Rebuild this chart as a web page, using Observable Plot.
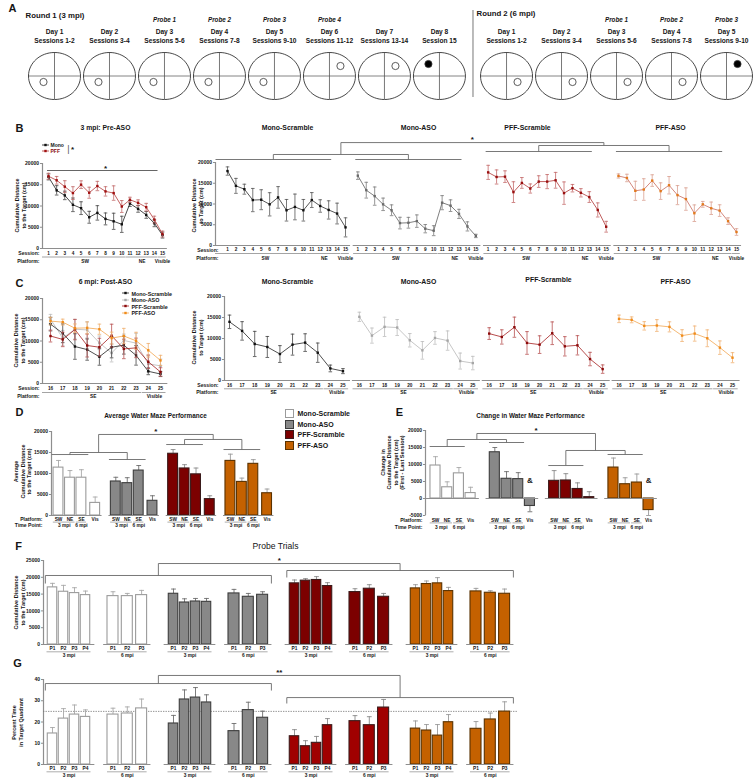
<!DOCTYPE html>
<html><head><meta charset="utf-8">
<script src="https://cdn.jsdelivr.net/npm/d3@7"></script>
<script src="https://cdn.jsdelivr.net/npm/@observablehq/plot@0.6"></script>
<style>
html,body{margin:0;padding:0;background:#fff;}
#fig{position:relative;width:753px;height:781px;overflow:hidden;background:#fff;font-family:'Liberation Sans',Arial,Helvetica,sans-serif;color:#151515;}
.t{position:absolute;white-space:nowrap;line-height:1;}
</style></head><body><div id="fig"></div><script>
// ================= DATA =================
// Panel A
const round1Days = ["Day 1","Day 2","Day 3","Day 4","Day 5","Day 6","Day 7","Day 8"];
const round1Sessions = ["Sessions 1-2","Sessions 3-4","Sessions 5-6","Sessions 7-8","Sessions 9-10","Sessions 11-12","Sessions 13-14","Session 15"];
const round1Probes = ["","","Probe 1","Probe 2","Probe 3","Probe 4","",""];
const round1Platform = ["SW","SW","SW","SW","SW","NE","NE","NW"];
const round1Visible = [false,false,false,false,false,false,false,true];
const round2Days = ["Day 1","Day 2","Day 3","Day 4","Day 5"];
const round2Sessions = ["Sessions 1-2","Sessions 3-4","Sessions 5-6","Sessions 7-8","Sessions 9-10"];
const round2Probes = ["","","Probe 1","Probe 2","Probe 3"];
const round2Platform = ["SE","SE","SE","SE","NE"];
const round2Visible = [false,false,false,false,true];

const groupNames = ["Mono-Scramble","Mono-ASO","PFF-Scramble","PFF-ASO"];
const distTicks = [0,5000,10000,15000,20000];

// Panel B (3 mpi, pre-ASO)
const bSessions = [1,2,3,4,5,6,7,8,9,10,11,12,13,14,15];
const bPlatformNames = ["SW","NE","Visible"];
const bPlatformFrom = [1,11,15];
const bPlatformTo = [10,14,15];
const bMonoMean = [16840,13680,12490,10280,9490,7350,8380,6960,6400,5690,10590,9330,7900,5930,3160];
const bMonoSem  = [700,1100,1000,1600,1500,1400,1700,1400,1900,1900,700,800,800,800,700];
const bPffMean  = [17000,16050,14550,13040,15020,13120,14700,13440,13040,9880,11460,10750,9720,6800,3400];
const bPffSem   = [700,900,1400,1500,900,1300,1100,1100,1700,1400,600,700,900,800,700];
const bMonoScrMean = [17940,14370,13570,10950,11030,9920,11590,8490,9290,8490,10950,9520,8570,7700,4370];
const bMonoScrSem  = [1000,1800,1200,2800,2400,2800,2600,2600,3100,2600,1800,1500,2200,2500,2300];
const bMonoAsoMean = [16830,13330,11900,9920,8490,5400,5480,5870,4050,3570,10320,9600,7620,4600,2300];
const bMonoAsoSem  = [900,1900,2200,1500,1300,1400,1300,1500,1000,1200,1700,1400,1100,1100,400];
const bPffScrMean  = [17620,16510,16590,12860,15080,13730,15400,15400,15710,12620,13810,12700,11670,8570,4520];
const bPffScrSem   = [1700,1700,1400,2500,1300,1100,1400,1700,1900,2700,900,1000,1300,1700,1300];
const bPffAsoMean  = [16750,16270,13180,13490,15640,13100,14520,12140,11190,7780,9920,8970,8410,5870,3250];
const bPffAsoSem   = [500,900,2300,2600,1400,2000,2100,2300,2700,2000,700,1500,1400,800,800];

// Panel C (6 mpi, post-ASO)
const cSessions = [16,17,18,19,20,21,22,23,24,25];
const cPlatformNames = ["SE","Visible"];
const cPlatformFrom = [16,24];
const cPlatformTo = [23,25];
const cMonoScrMean = [13970,11810,8700,7980,6300,8540,9020,6620,2870,2230];
const cMonoScrSem  = [1600,2200,3000,2500,2000,2500,2100,2300,800,600];
const cMonoAsoMean = [15160,10690,12770,12610,9580,7180,10130,9500,4630,4150];
const cMonoAsoSem  = [1100,1800,2300,1900,1600,2100,1500,2300,1900,1600];
const cPffScrMean  = [11170,10370,12690,8940,8540,11250,8140,8380,5110,2710];
const cPffScrSem   = [1400,1700,2400,2700,2100,2700,2300,2300,1600,1000];
const cPffAsoMean  = [14680,14440,13010,13090,12770,10690,11170,10050,7820,5430];
const cPffAsoSem   = [900,700,1000,1400,1200,1400,1800,2000,1600,1200];

// Panel D (average performance) : SW, NE, SE, Vis
const dPlatforms = ["SW","NE","SE","Vis"];
const dTimePoints = ["3 mpi","6 mpi"];
const dMonoScrMean = [11400,9000,9000,3000];   const dMonoScrSem = [1700,1700,1900,1400];
const dMonoAsoMean = [8100,7700,10700,3500];   const dMonoAsoSem = [1000,1300,1200,1200];
const dPffScrMean  = [14700,11200,9800,3900];  const dPffScrSem  = [1000,900,1500,800];
const dPffAsoMean  = [13000,8000,12300,5300];  const dPffAsoSem  = [1600,900,1000,1000];
const dTicks = [0,5000,10000,15000,20000];

// Panel E (change first - last session)
const eMonoScrMean = [9700,3300,7400,1600];    const eMonoScrSem = [2600,1600,1700,1700];
const eMonoAsoMean = [13600,5800,5700,-2200];  const eMonoAsoSem = [1400,2100,1900,1700];
const ePffScrMean  = [5200,5300,2800,400];     const ePffScrSem  = [3000,2000,1800,1600];
const ePffAsoMean  = [9100,4200,4700,-3400];   const ePffAsoSem  = [2800,1900,2500,1600];
const eMarks = ["","&","","&"];
const eTicks = [-5000,0,5000,10000,15000,20000];

// Panel F (probe trials, cumulative distance)
const probes3 = ["P1","P2","P3","P4"];
const probes6 = ["P1","P2","P3"];
const fMonoScr3 = [17000,15700,15300,14700]; const fMonoScr3Sem = [1200,1900,1600,1200];
const fMonoScr6 = [14400,14400,14700];       const fMonoScr6Sem = [1300,800,1400];
const fMonoAso3 = [15100,12500,12800,12700]; const fMonoAso3Sem = [1400,1100,900,1000];
const fMonoAso6 = [15200,14200,14800];       const fMonoAso6Sem = [1200,1000,900];
const fPffScr3  = [18200,19000,19200,17400]; const fPffScr3Sem  = [1000,600,1000,1000];
const fPffScr6  = [15600,16600,14200];       const fPffScr6Sem  = [1000,1200,1000];
const fPffAso3  = [16700,18000,18200,15900]; const fPffAso3Sem  = [1100,900,1700,1100];
const fPffAso6  = [15800,15400,15100];       const fPffAso6Sem  = [900,600,1400];
const fTicks = [0,5000,10000,15000,20000,25000];

// Panel G (probe trials, % time in target quadrant)
const gMonoScr3 = [14.6,21.6,23.5,22.4]; const gMonoScr3Sem = [2.8,4.7,4.5,3.3];
const gMonoScr6 = [23.5,24.0,26.4];      const gMonoScr6Sem = [3.0,3.1,4.4];
const gMonoAso3 = [19.3,30.6,31.5,29.2]; const gMonoAso3Sem = [3.8,4.5,4.7,3.6];
const gMonoAso6 = [15.7,25.6,22.0];      const gMonoAso6Sem = [3.6,3.7,3.1];
const gPffScr3  = [13.3,8.6,10.2,18.5];  const gPffScr3Sem  = [3.1,2.6,3.0,3.1];
const gPffScr6  = [20.4,18.5,26.8];      const gPffScr6Sem  = [2.6,4.0,3.8];
const gPffAso3  = [16.9,16.0,13.6,19.9]; const gPffAso3Sem  = [3.6,2.8,5.2,3.6];
const gPffAso6  = [16.8,21.2,24.9];      const gPffAso6Sem  = [3.4,3.0,4.6];
const gTicks = [0,10,20,30,40];
const gChance = 25;

// ================= STYLE =================
const FONT = "'Liberation Sans', Arial, Helvetica, sans-serif";
const AX = "#8e8e8e";
const BR = "#6a6a6a";
const barFill   = ["#ffffff","#888888","#7c0000","#c46100"];
const barStroke = ["#9b9b9b","#3d3d3d","#3a1a1a","#5a3200"];
const barErr    = ["#a8a8a8","#6e6e6e","#8a8a8a","#9a9a9a"];
const bColors = [
  {line:"#2a2a2a", marker:"#111111", err:"#555555"},
  {line:"#5e5e5e", marker:"#6a6a6a", err:"#7a7a7a"},
  {line:"#b03535", marker:"#990f0f", err:"#c46a6a"},
  {line:"#c86a5c", marker:"#e27a1e", err:"#d9a090"}];
const cColors = [
  {line:"#222222", marker:"#111111", err:"#444444"},
  {line:"#b8b8b8", marker:"#a6a6a6", err:"#bdbdbd"},
  {line:"#a52020", marker:"#8b0a0a", err:"#b85050"},
  {line:"#f2a651", marker:"#f08c1a", err:"#f0b070"}];
const monoCol = {line:"#1a1a1a", marker:"#111111", err:"#444444"};
const pffCol  = {line:"#b33a3a", marker:"#a01010", err:"#c26a6a"};

// ================= HELPERS =================
const fig = document.getElementById("fig");
const C = v => () => v;
const inv = (S, px) => S[0][0] + (px - S[1][0]) * (S[0][1] - S[0][0]) / (S[1][1] - S[1][0]);
const tickSym = {draw(c){ c.moveTo(-2.5,0); c.lineTo(0,0); }};
const capSym  = {draw(c){ c.moveTo(-1.8,0); c.lineTo(1.8,0); }};
const capWide = {draw(c){ c.moveTo(-2.4,0); c.lineTo(2.4,0); }};
function ellipseSym(rx, ry){ const k=0.5523; return {draw(c){
  c.moveTo(rx,0); c.bezierCurveTo(rx,k*ry,k*rx,ry,0,ry); c.bezierCurveTo(-k*rx,ry,-rx,k*ry,-rx,0);
  c.bezierCurveTo(-rx,-k*ry,-k*rx,-ry,0,-ry); c.bezierCurveTo(k*rx,-ry,rx,-k*ry,rx,0); c.closePath(); }}; }
const T = (data, o) => Plot.text(data, Object.assign({fontFamily: FONT, fontSize: 5, fontWeight: "bold", fill: "#151515"}, o));

function draw(X, Y, marks){
  const svg = Plot.plot({width:753, height:781, marginTop:0, marginRight:0, marginBottom:0, marginLeft:0,
    x:{type:"linear", domain:X[0], range:X[1], axis:null},
    y:{type:"linear", domain:Y[0], range:Y[1], axis:null},
    color:{type:"identity"},
    style:"position:absolute;left:0;top:0;background:transparent;overflow:visible;max-width:none;",
    marks});
  fig.appendChild(svg);
}
// free-standing labels (titles, letters, axis titles) drawn as SVG text in one layer
const labels = [];
function txt(s, x, y, o={}){ labels.push({s, x, y, size:o.size||7, weight:o.weight||"bold", anchor:o.anchor||"middle", italic:!!o.italic, color:o.color||"#151515", rotate:0}); }
function rotTxt(lines, x, y, size=5.5){ labels.push({s:lines.join("\n"), x, y, size, weight:"bold", anchor:"middle", italic:false, color:"#151515", rotate:-90}); }
function lineSwatch(x, y, c){
  const d=document.createElement("div"); d.className="t";
  Object.assign(d.style,{left:x+"px",top:(y-3)+"px"});
  d.innerHTML=`<svg width="7" height="6" style="display:block"><line x1="0" y1="3" x2="7" y2="3" stroke="${c.line}" stroke-width="0.8"/><rect x="2.3" y="1.8" width="2.4" height="2.4" fill="${c.marker}"/></svg>`;
  fig.appendChild(d);
}
function yAxis(ax, ticks, lo, hi, fs=5){
  return [
    Plot.ruleX([ax], {x:d=>d, y1:C(lo), y2:C(hi), stroke:AX, strokeWidth:1.2}),
    Plot.dot(ticks, {x:C(ax), y:d=>d, symbol:tickSym, fill:"none", stroke:AX, strokeWidth:1}),
    T(ticks, {x:C(ax), y:d=>d, text:d=>String(d), textAnchor:"end", dx:-3.5, fontSize:fs})
  ];
}
function series(rows, xk, mk, ek, c){
  return [
    Plot.ruleX(rows, {x:xk, y1:d=>d[mk]-d[ek], y2:d=>d[mk]+d[ek], stroke:c.err, strokeWidth:0.8}),
    Plot.dot(rows, {x:xk, y:d=>d[mk]-d[ek], symbol:capSym, fill:"none", stroke:c.err, strokeWidth:0.8}),
    Plot.dot(rows, {x:xk, y:d=>d[mk]+d[ek], symbol:capSym, fill:"none", stroke:c.err, strokeWidth:0.8}),
    Plot.line(rows, {x:xk, y:mk, stroke:c.line, strokeWidth:0.8}),
    Plot.dot(rows, {x:xk, y:mk, symbol:"square", r:1.35, fill:c.marker})
  ];
}
function sessionFrame({sessions, xf, ax, names, from, to, dys, fromAxis}){
  const P = names.map((n,i)=>({n, a:(i===0 && fromAxis) ? ax : xf(from[i])-0.5, b:xf(to[i])+0.45, m:(xf(from[i])+xf(to[i]))/2}));
  return [
    Plot.ruleY([0], {y:d=>d, x1:C(fromAxis?ax:xf(sessions[0])-0.55), x2:C(xf(sessions[sessions.length-1])+0.6), stroke:AX, strokeWidth:1}),
    T(sessions, {x:d=>xf(d), y:C(0), dy:dys[0], text:d=>String(d), fontSize:4.7}),
    Plot.ruleY(P, {y:C(0), dy:dys[1], x1:"a", x2:"b", stroke:"#9a9a9a", strokeWidth:0.9}),
    T(P, {x:"m", y:C(0), dy:dys[2], text:"n", fontSize:4.8})
  ];
}
function rowLabels(x, yv, dys, dx, names){
  return names.map((n,i)=>T([n], {x:C(x), y:C(yv), dy:dys[i], dx, textAnchor:"end", text:d=>d, fontSize:5.1}));
}
function bracket(xa, xb, y, ya, yb){
  return [{x1:xa,y1:y,x2:xb,y2:y},{x1:xa,y1:y,x2:xa,y2:ya},{x1:xb,y1:y,x2:xb,y2:yb}];
}
const links = (segs, stroke=BR) => Plot.link(segs, {x1:"x1", y1:"y1", x2:"x2", y2:"y2", stroke, strokeWidth:0.9});

// ================= PANEL A =================
txt("A", 12, 7, {size:11});
txt("Round 1 (3 mpi)", 25, 15, {size:7.8, anchor:"start"});
txt("Round 2 (6 mpi)", 476, 13, {size:7.8, anchor:"start"});
{
  const slots = [];
  round1Days.forEach((d,i)=>slots.push({slot:i, day:d, sess:round1Sessions[i], probe:round1Probes[i], plat:round1Platform[i], vis:round1Visible[i]}));
  round2Days.forEach((d,j)=>slots.push({slot:8.22+j, day:d, sess:round2Sessions[j], probe:round2Probes[j], plat:round2Platform[j], vis:round2Visible[j]}));
  const X=[[0,12.22],[54,726]], Y=[[0,100],[0,100]];
  const ux = 12.22/672;
  const cy=75.5, rx=26, ry=23.5;
  const plats = slots.map(s=>{
    const qx = s.plat.includes("E") ? 1 : -1, qy = s.plat.startsWith("N") ? -1 : 1;
    return {...s, px: s.slot + qx*11*ux, py: cy + qy*(s.vis ? 12 : (qy<0 ? 10 : 6))};
  });
  draw(X, Y, [
    Plot.ruleY(slots, {y:C(cy), x1:d=>d.slot-rx*ux, x2:d=>d.slot+rx*ux, stroke:"#666", strokeWidth:0.8}),
    Plot.ruleX(slots, {x:"slot", y1:C(cy-ry), y2:C(cy+ry), stroke:"#555", strokeWidth:0.8}),
    Plot.dot(slots, {x:"slot", y:C(cy), symbol:ellipseSym(rx,ry), fill:"none", stroke:"#333", strokeWidth:0.9}),
    Plot.dot(plats, {x:"px", y:"py", r:3.6, fill:d=>d.vis?"#000000":"#ffffff", stroke:"#333", strokeWidth:0.8}),
    T(slots, {x:"slot", y:C(19), text:"probe", fontStyle:"italic", fontSize:6.3}),
    T(slots, {x:"slot", y:C(31), text:"day", fontSize:6.6}),
    T(slots, {x:"slot", y:C(40), text:"sess", fontSize:6.6}),
    Plot.ruleX([(7+8.22)/2], {x:d=>d, y1:C(10), y2:C(97), stroke:"#777", strokeWidth:1})
  ]);
}

// ================= PANEL B =================
txt("B", 19, 127, {size:11});
txt("3 mpi: Pre-ASO", 105, 127, {size:6.8});
lineSwatch(42, 145, monoCol); txt("Mono", 50, 145, {size:5, anchor:"start"});
lineSwatch(42, 151, pffCol);  txt("PFF", 50, 151, {size:5, anchor:"start", color:"#8a1010"});
txt("|", 68, 148, {size:9, weight:"normal", color:"#555"});
txt("*", 72, 149, {size:8});
rotTxt(["Cumulative Distance","to the Target (cm)"], 20, 205);
{
  const X=[[1,15],[48,162]], Y=[[0,20000],[248,163]];
  const xf = s=>s, ax = inv(X, 42);
  const rows = bSessions.map((s,i)=>({x:s, mono:bMonoMean[i], monoE:bMonoSem[i], pff:bPffMean[i], pffE:bPffSem[i]}));
  draw(X, Y, [
    ...yAxis(ax, distTicks, 0, 20000),
    ...sessionFrame({sessions:bSessions, xf, ax, names:bPlatformNames, from:bPlatformFrom, to:bPlatformTo, dys:[5,8.5,12.5], fromAxis:true}),
    ...rowLabels(1, 0, [5.2,12.5], -9, ["Session:","Platform:"]),
    Plot.ruleY([18350], {y:d=>d, x1:C(0.88), x2:C(14.45), stroke:"#555", strokeWidth:0.9}),
    T(["*"], {x:C(8), y:C(18350), dy:-2, text:d=>d, fontSize:8}),
    ...series(rows, "x", "mono", "monoE", monoCol),
    ...series(rows, "x", "pff", "pffE", pffCol)
  ]);
}
[287,418,527,670].forEach((x,g)=>txt(groupNames[g], x, 127, {size:6.9}));
rotTxt(["Cumulative Distance","to Target (cm)"], 197, 205);
{
  const stride=15.46, X=[[0,3*stride+14],[227,736]], Y=[[0,20000],[245,162]];
  const ax = inv(X, 215);
  const data = [[bMonoScrMean,bMonoScrSem],[bMonoAsoMean,bMonoAsoSem],[bPffScrMean,bPffScrSem],[bPffAsoMean,bPffAsoSem]];
  const marks = [...yAxis(ax, distTicks, 0, 20000)];
  groupNames.forEach((n,g)=>{
    const xf = s=>g*stride+(s-1);
    const rows = bSessions.map((s,i)=>({x:xf(s), m:data[g][0][i], e:data[g][1][i]}));
    marks.push(...sessionFrame({sessions:bSessions, xf, ax, names:bPlatformNames, from:bPlatformFrom, to:bPlatformTo, dys:[4.4,8,12.5], fromAxis:g===0}));
    marks.push(...series(rows, "x", "m", "e", bColors[g]));
  });
  marks.push(...rowLabels(0, 0, [5,12.5], -9, ["Session:","Platform:"]));
  const lineLevel=[20720,20720,22650,22650];
  const gl = groupNames.map((n,g)=>{ const a = g===0 ? ax : g*stride-0.3, b = g*stride+12.3; return {a, b, m:(a+b)/2, y:lineLevel[g]}; });
  const pairLevel=[21930,24100], topLevel=24800;
  const pm = [(gl[0].m+gl[1].m)/2, (gl[2].m+gl[3].m)/2];
  const segs = [
    ...gl.map(l=>({x1:l.a,y1:l.y,x2:l.b,y2:l.y})),
    ...bracket(gl[0].m, gl[1].m, pairLevel[0], gl[0].y, gl[1].y),
    ...bracket(gl[2].m, gl[3].m, pairLevel[1], gl[2].y, gl[3].y),
    ...bracket(pm[0], pm[1], topLevel, pairLevel[0], pairLevel[1])
  ];
  marks.push(links(segs), T(["*"], {x:C((pm[0]+pm[1])/2), y:C(topLevel), dy:-3, text:d=>d, fontSize:8}));
  draw(X, Y, marks);
}

// ================= PANEL C =================
txt("C", 19, 282, {size:11});
txt("6 mpi: Post-ASO", 105, 281, {size:6.8});
[293,299.5,306,312.5].forEach((y,g)=>{ lineSwatch(122, y, cColors[g]); txt(groupNames[g], 131, y, {size:5.4, anchor:"start"}); });
rotTxt(["Cumulative Distance","to the Target (cm)"], 19, 340);
{
  const X=[[16,25],[50,160]], Y=[[0,20000],[383,298]];
  const xf = s=>s, ax = inv(X, 42);
  const data = [[cMonoScrMean,cMonoScrSem],[cMonoAsoMean,cMonoAsoSem],[cPffScrMean,cPffScrSem],[cPffAsoMean,cPffAsoSem]];
  const marks = [
    ...yAxis(ax, distTicks, 0, 20000),
    ...sessionFrame({sessions:cSessions, xf, ax, names:cPlatformNames, from:cPlatformFrom, to:cPlatformTo, dys:[5,9,13], fromAxis:true}),
    ...rowLabels(16, 0, [5.2,13], -11, ["Session:","Platform:"])
  ];
  [1,0,2,3].forEach(g=>{
    const rows = cSessions.map((s,i)=>({x:s, m:data[g][0][i], e:data[g][1][i]}));
    marks.push(...series(rows, "x", "m", "e", cColors[g]));
  });
  draw(X, Y, marks);
}
[[287,281],[418,281],[548,279],[675,281]].forEach(([x,y],g)=>txt(groupNames[g], x, y, {size:6.9}));
rotTxt(["Cumulative Distance","to Target (cm)"], 197, 337);
{
  const stride=10.3, X=[[0,3*stride+9],[229,732]], Y=[[0,20000],[380,296]];
  const ax = inv(X, 224);
  const data = [[cMonoScrMean,cMonoScrSem],[cMonoAsoMean,cMonoAsoSem],[cPffScrMean,cPffScrSem],[cPffAsoMean,cPffAsoSem]];
  const marks = [...yAxis(ax, distTicks, 0, 20000)];
  groupNames.forEach((n,g)=>{
    const xf = s=>g*stride+(s-16);
    const rows = cSessions.map((s,i)=>({x:xf(s), m:data[g][0][i], e:data[g][1][i]}));
    marks.push(...sessionFrame({sessions:cSessions, xf, ax, names:cPlatformNames, from:cPlatformFrom, to:cPlatformTo, dys:[4.6,8.3,12.3], fromAxis:g===0}));
    marks.push(...series(rows, "x", "m", "e", cColors[g]));
  });
  marks.push(...rowLabels(0, 0, [5,12.3], -11, ["Session:","Platform:"]));
  draw(X, Y, marks);
}

// ================= BAR HELPERS =================
function barMarks(rows, half){
  return [
    Plot.ruleX(rows, {x:"slot", y1:"v", y2:d=>d.v + (d.v<0 ? -d.e : d.e), stroke:d=>barErr[d.g], strokeWidth:0.9}),
    Plot.dot(rows, {x:"slot", y:d=>d.v + (d.v<0 ? -d.e : d.e), symbol:capWide, fill:"none", stroke:d=>barErr[d.g], strokeWidth:0.9}),
    Plot.rect(rows, {x1:d=>d.slot-half(d), x2:d=>d.slot+half(d), y1:C(0), y2:"v", fill:"fill", stroke:d=>barStroke[d.g], strokeWidth:1.1})
  ];
}

// ================= PANEL D =================
txt("D", 19, 411, {size:11});
txt("Average Water Maze Performance", 155, 415, {size:6.4});
rotTxt(["Average","Cumulative Distance","to the Target (cm)"], 22, 471);
[413,423.5,434,444.5].forEach((y,g)=>{
  const b=document.createElement("div");
  Object.assign(b.style,{position:"absolute",left:"285px",top:(y-4)+"px",width:"7px",height:"7px",background:barFill[g],border:`1.3px solid ${barStroke[g]}`});
  fig.appendChild(b);
  txt(groupNames[g], 297, y, {size:7, anchor:"start"});
});
{
  const per=5, off=[0,1,2,3.2], step=11.46, x0=58;
  const slotOf=(g,b)=>g*per+off[b];
  const mx=slotOf(3,3);
  const X=[[0,mx],[x0,x0+mx*step]], Y=[[0,20000],[515,431]];
  const ax = inv(X, 51);
  const means=[dMonoScrMean,dMonoAsoMean,dPffScrMean,dPffAsoMean], sems=[dMonoScrSem,dMonoAsoSem,dPffScrSem,dPffAsoSem];
  const rows=[]; means.forEach((arr,g)=>arr.forEach((v,b)=>rows.push({g,b,v,e:sems[g][b],slot:slotOf(g,b),fill:barFill[g],plat:dPlatforms[b]})));
  const grp=[0,1,2,3].map(g=>({g, a:g===0?ax:slotOf(g,0)-0.6, b:slotOf(g,3)+0.6,
    u1a:slotOf(g,0)-0.45, u1b:slotOf(g,1)+0.45, u2a:slotOf(g,2)-0.45, u2b:slotOf(g,2)+0.45,
    t3:(slotOf(g,0)+slotOf(g,1))/2, t6:slotOf(g,2)}));
  const lineLevel=[14520,13330,16900,15710];
  const gl=grp.map((q,g)=>{ const a=slotOf(g,0)-0.6, b=slotOf(g,2)+0.6; return {a,b,m:(a+b)/2,y:lineLevel[g]}; });
  const pairLevel=[15000,18100], topLevel=19290;
  const pm=[(gl[0].m+gl[1].m)/2,(gl[2].m+gl[3].m)/2];
  const segs=[...gl.map(l=>({x1:l.a,y1:l.y,x2:l.b,y2:l.y})),
    ...bracket(gl[0].m,gl[1].m,pairLevel[0],gl[0].y,gl[1].y),
    ...bracket(gl[2].m,gl[3].m,pairLevel[1],gl[2].y,gl[3].y),
    ...bracket(pm[0],pm[1],topLevel,pairLevel[0],pairLevel[1])];
  draw(X, Y, [
    ...yAxis(ax, dTicks, 0, 20000),
    ...barMarks(rows, ()=>0.43),
    Plot.ruleY(grp, {y:C(0), x1:"a", x2:"b", stroke:AX, strokeWidth:1}),
    T(rows, {x:"slot", y:C(0), dy:3.8, text:"plat", fontSize:4.8}),
    Plot.ruleY(grp, {y:C(0), dy:6.6, x1:"u1a", x2:"u1b", stroke:"#999", strokeWidth:0.8}),
    Plot.ruleY(grp, {y:C(0), dy:6.6, x1:"u2a", x2:"u2b", stroke:"#999", strokeWidth:0.8}),
    T(grp, {x:"t3", y:C(0), dy:10.3, text:C(dTimePoints[0]), fontSize:4.8}),
    T(grp, {x:"t6", y:C(0), dy:10.3, text:C(dTimePoints[1]), fontSize:4.8}),
    ...rowLabels(ax, 0, [3.8,10.3], -9, ["Platform:","Time Point:"]),
    links(segs),
    T(["*"], {x:C((pm[0]+pm[1])/2), y:C(topLevel), dy:-3, text:d=>d, fontSize:8})
  ]);
}

// ================= PANEL E =================
txt("E", 399, 411, {size:11});
txt("Change in Water Maze Performance", 530, 415, {size:6.4});
rotTxt(["Change in","Cumulative Distance","to the Target (cm)","(First - Last Session)"], 392, 462);
{
  const per=5.07, step=11.7, x0=435;
  const slotOf=(g,b)=>g*per+b;
  const mx=slotOf(3,3);
  const X=[[0,mx],[x0,x0+mx*step]], Y=[[-5000,20000],[515,430]];
  const ax = inv(X, 425);
  const means=[eMonoScrMean,eMonoAsoMean,ePffScrMean,ePffAsoMean], sems=[eMonoScrSem,eMonoAsoSem,ePffScrSem,ePffAsoSem];
  const rows=[]; means.forEach((arr,g)=>arr.forEach((v,b)=>rows.push({g,b,v,e:sems[g][b],slot:slotOf(g,b),fill:barFill[g],plat:dPlatforms[b]})));
  const grp=[0,1,2,3].map(g=>({g, a:g===0?ax:slotOf(g,0)-0.75, b:slotOf(g,3)+0.75,
    u1a:slotOf(g,0)-0.45, u1b:slotOf(g,1)+0.45, u2a:slotOf(g,2)-0.45, u2b:slotOf(g,2)+0.45,
    t3:(slotOf(g,0)+slotOf(g,1))/2, t6:slotOf(g,2), amp:eMarks[g], vis:slotOf(g,3)}));
  const lineLevel=[15290,16470,9700,12940];
  const gl=grp.map((q,g)=>{ const a=slotOf(g,0)-0.5, b=slotOf(g,2)+0.5; return {a,b,m:(a+b)/2,y:lineLevel[g]}; });
  const pairLevel=[17350,14120], topLevel=19120;
  const pm=[(gl[0].m+gl[1].m)/2,(gl[2].m+gl[3].m)/2];
  const segs=[...gl.map(l=>({x1:l.a,y1:l.y,x2:l.b,y2:l.y})),
    ...bracket(gl[0].m,gl[1].m,pairLevel[0],gl[0].y,gl[1].y),
    ...bracket(gl[2].m,gl[3].m,pairLevel[1],gl[2].y,gl[3].y),
    ...bracket(pm[0],pm[1],topLevel,pairLevel[0],pairLevel[1])];
  draw(X, Y, [
    ...yAxis(ax, eTicks, -5000, 20000),
    ...barMarks(rows, ()=>0.43),
    Plot.ruleY(grp, {y:C(0), x1:"a", x2:"b", stroke:AX, strokeWidth:1}),
    T(rows, {x:"slot", y:C(-5000), dy:4.6, text:"plat", fontSize:4.8}),
    Plot.ruleY(grp, {y:C(-5000), dy:7.4, x1:"u1a", x2:"u1b", stroke:"#999", strokeWidth:0.8}),
    Plot.ruleY(grp, {y:C(-5000), dy:7.4, x1:"u2a", x2:"u2b", stroke:"#999", strokeWidth:0.8}),
    T(grp, {x:"t3", y:C(-5000), dy:11.8, text:C(dTimePoints[0]), fontSize:4.8}),
    T(grp, {x:"t6", y:C(-5000), dy:11.8, text:C(dTimePoints[1]), fontSize:4.8}),
    ...rowLabels(ax, -5000, [4.9,11.8], -3, ["Platform:","Time Point:"]),
    T(grp, {x:"vis", y:C(5300), text:"amp", fontSize:8}),
    links(segs),
    T(["*"], {x:C((pm[0]+pm[1])/2), y:C(topLevel), dy:-3, text:d=>d, fontSize:8})
  ]);
}

// ================= PANELS F & G =================
function probePanel({sets, Y, ticks, lo, hi, base, monoLv, pffLv, topLv, star, fillOverride, chance}){
  const per=5.5, step=11, x0=52;
  const slotOf=(k,b)=>k*per + b*(k%2 ? 1.3 : 1);
  const mx=slotOf(7,2);
  const X=[[0,mx],[x0,x0+mx*step]];
  const ax = inv(X, 43);
  const rows=[], subs=[];
  sets.forEach((s,k)=>{
    const g=Math.floor(k/2), labs = k%2 ? probes6 : probes3;
    s[0].forEach((v,b)=>rows.push({g,k,b,v,e:s[1][b],slot:slotOf(k,b),fill:(fillOverride&&fillOverride[g])||barFill[g],lab:labs[b],six:k%2===1}));
    const first=slotOf(k,0), last=slotOf(k,s[0].length-1);
    subs.push({k, a:k===0?ax:first-0.85, b:last+0.85, ua:first-0.5, ub:last+0.5, m:(first+last)/2, t:k%2 ? dTimePoints[1] : dTimePoints[0], first, last});
  });
  const mA=subs[0].first-0.65, mB=subs[3].last+0.8, pA=subs[4].first-0.7, pB=subs[7].last+0.8;
  const mc=(mA+mB)/2, pc=(pA+pB)/2;
  const segs=[...bracket(mA,mB,monoLv[0],monoLv[1],monoLv[1]), ...bracket(pA,pB,pffLv[0],pffLv[1],pffLv[1]), ...bracket(mc,pc,topLv,monoLv[0],pffLv[0])];
  const marks=[...yAxis(ax, ticks, lo, hi)];
  if (chance!=null) marks.push(Plot.ruleY([chance], {y:d=>d, x1:C(ax), x2:C(mx+1.2), stroke:"#777", strokeWidth:0.8, strokeDasharray:"1.4,1.1"}));
  marks.push(
    ...barMarks(rows, d=>d.six ? 0.5 : 0.43),
    Plot.ruleY(subs, {y:C(base), x1:"a", x2:"b", stroke:AX, strokeWidth:1}),
    T(rows, {x:"slot", y:C(base), dy:4.3, text:"lab", fontSize:4.8}),
    Plot.ruleY(subs, {y:C(base), dy:7.3, x1:"ua", x2:"ub", stroke:"#999", strokeWidth:0.8}),
    T(subs, {x:"m", y:C(base), dy:11.3, text:"t", fontSize:4.8}),
    links(segs),
    T([star], {x:C((mc+pc)/2), y:C(topLv), dy:-3.5, text:d=>d, fontSize:8})
  );
  draw(X, Y, marks);
}
txt("F", 18, 545, {size:11});
txt("Probe Trials", 275, 545, {size:8.6, weight:"normal"});
rotTxt(["Cumulative Distance","to the Target (cm)"], 19, 602);
probePanel({
  sets:[[fMonoScr3,fMonoScr3Sem],[fMonoScr6,fMonoScr6Sem],[fMonoAso3,fMonoAso3Sem],[fMonoAso6,fMonoAso6Sem],
        [fPffScr3,fPffScr3Sem],[fPffScr6,fPffScr6Sem],[fPffAso3,fPffAso3Sem],[fPffAso6,fPffAso6Sem]],
  Y:[[0,25000],[644,560]], ticks:fTicks, lo:0, hi:25000, base:0,
  monoLv:[20540,18150], pffLv:[22020,19940], topLv:24100, star:"*"
});
txt("G", 17, 662, {size:11});
rotTxt(["Percent Time","in Target Quadrant"], 17, 722);
probePanel({
  sets:[[gMonoScr3,gMonoScr3Sem],[gMonoScr6,gMonoScr6Sem],[gMonoAso3,gMonoAso3Sem],[gMonoAso6,gMonoAso6Sem],
        [gPffScr3,gPffScr3Sem],[gPffScr6,gPffScr6Sem],[gPffAso3,gPffAso3Sem],[gPffAso6,gPffAso6Sem]],
  Y:[[0,40],[764,679]], ticks:gTicks, lo:0, hi:40, base:0,
  monoLv:[38.1,34.8], pffLv:[31.5,28.7], topLv:41.9, star:"**", fillOverride:[null,null,"#a00000",null], chance:gChance
});

// ================= TEXT LAYER =================
draw([[0,753],[0,753]], [[0,781],[0,781]], labels.map(l => Plot.text([l], {
  x:"x", y:"y", text:"s", fontSize:l.size, fontWeight:l.weight, fontStyle:l.italic?"italic":"normal",
  textAnchor:l.anchor, fill:l.color, rotate:l.rotate, lineHeight:1.15, fontFamily:FONT
})));
</script></body></html>
